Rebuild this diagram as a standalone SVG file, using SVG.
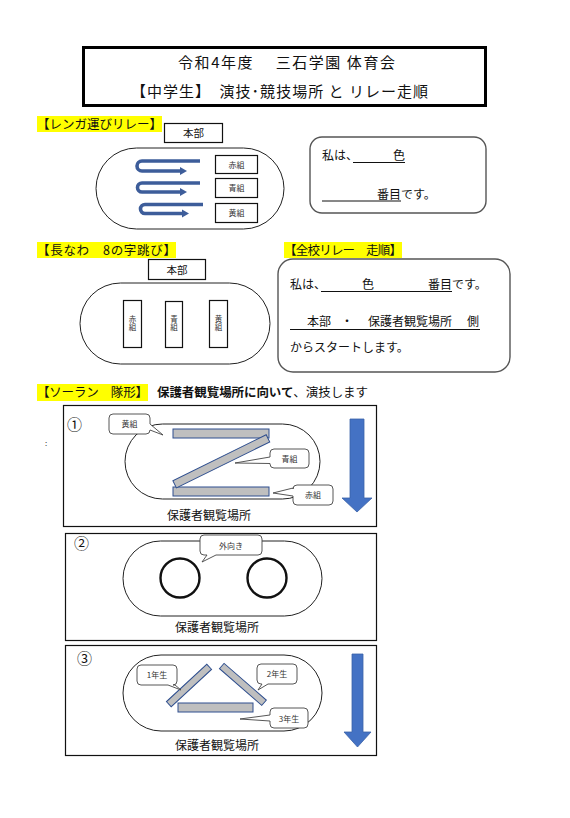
<svg xmlns="http://www.w3.org/2000/svg" width="570" height="818" viewBox="0 0 570 818">
<style>
text{font-family:"Noto Sans CJK JP","Noto Sans",sans-serif;fill:#111}
.t15{font-size:15px}
.h{font-size:12.5px}
.b12{font-size:12px}
.s10{font-size:10.5px}
.s8{font-size:8px;fill:#333}
.v{font-size:7.5px;fill:#333;writing-mode:vertical-rl;text-orientation:upright;letter-spacing:1px}
.hl{fill:#ffff00}
.oval{fill:none;stroke:#222;stroke-width:1}
.box{fill:#fff;stroke:#111;stroke-width:1.2}
.rbox{fill:#fff;stroke:#555;stroke-width:1.4}
.panel{fill:none;stroke:#111;stroke-width:1.2}
.bar{fill:#bfbfbf;stroke:#2f4f8f;stroke-width:1}
.call{fill:#fff;stroke:#444;stroke-width:0.9}
.ul{stroke:#111;stroke-width:1}
.uarrow{fill:none;stroke:#3d5d9a;stroke-width:3.6}
.uhead{fill:#3d5d9a}
.big{fill:#4472c4;stroke:#3a62a8;stroke-width:0.8}
.circ{fill:none;stroke:#111;stroke-width:2.4}
</style>

<!-- Title -->
<g id="title">
<rect x="83.5" y="47.5" width="402" height="58" fill="#fff" stroke="#000" stroke-width="3"/>
<text class="t15" x="178" y="68" textLength="217">令和4年度　 三石学園 体育会</text>
<text class="t15" x="131" y="97" textLength="297">【中学生】　演技･競技場所 と リレー走順</text>
</g>

<!-- Section 1: レンガ運びリレー -->
<g id="sec-renga">
<rect class="hl" x="37" y="116" width="125" height="16"/>
<text class="h" x="37" y="128.5" textLength="125">【レンガ運びリレー】</text>
</g>
<g id="renga-honbu">
<rect class="box" x="164.5" y="123.5" width="58" height="19"/>
<text class="s10" x="193.5" y="137" text-anchor="middle">本部</text>
</g>
<g id="renga-field">
<rect class="oval" x="96" y="148" width="188" height="81" rx="40.5"/>
</g>
<g id="renga-aka">
<rect class="box" x="215.5" y="155.5" width="42" height="18"/>
<text class="s8" x="236.5" y="167.5" text-anchor="middle">赤組</text>
</g>
<g id="renga-ao">
<rect class="box" x="215.5" y="178.5" width="42" height="19"/>
<text class="s8" x="236.5" y="191" text-anchor="middle">青組</text>
</g>
<g id="renga-ki">
<rect class="box" x="215.5" y="203.5" width="42" height="19"/>
<text class="s8" x="236.5" y="216" text-anchor="middle">黄組</text>
</g>

<!-- Right box 1 -->
<g id="renga-card">
<rect class="rbox" x="310" y="137" width="176" height="76" rx="12"/>
<text class="b12" x="322" y="160">私は、</text>
<line class="ul" x1="353" y1="162.5" x2="405" y2="162.5"/>
<text class="b12" x="393" y="160">色</text>
<line class="ul" x1="322" y1="201" x2="401" y2="201"/>
<text class="b12" x="377" y="198.5">番目です。</text>
</g>

<!-- Section 2: 長なわ -->
<g id="sec-nagawa">
<rect class="hl" x="37" y="242" width="139" height="16"/>
<text class="h" x="37" y="254.5" textLength="139">【長なわ　8の字跳び】</text>
</g>
<g id="nagawa-honbu">
<rect class="box" x="148.5" y="259.5" width="57" height="20"/>
<text class="s10" x="177" y="273.5" text-anchor="middle">本部</text>
</g>
<g id="nagawa-field">
<rect class="oval" x="80" y="283" width="190" height="81" rx="40.5"/>
</g>
<g id="nagawa-aka">
<rect class="box" x="123.5" y="300.5" width="18" height="47"/>
<text class="v" x="132.5" y="315">赤組</text>
</g>
<g id="nagawa-ao">
<rect class="box" x="165.5" y="301.5" width="17" height="46"/>
<text class="v" x="174" y="315">青組</text>
</g>
<g id="nagawa-ki">
<rect class="box" x="209.5" y="300.5" width="18" height="47"/>
<text class="v" x="218.5" y="315">黄組</text>
</g>

<!-- Section 3: 全校リレー -->
<g id="sec-zenko">
<rect class="hl" x="284" y="242" width="118" height="16"/>
<text class="h" x="284" y="254.5" textLength="118">【全校リレー　走順】</text>
</g>
<g id="zenko-card">
<rect class="rbox" x="278" y="259" width="232" height="113" rx="15"/>
<text class="b12" x="290" y="289">私は、</text>
<line class="ul" x1="321" y1="291.5" x2="452" y2="291.5"/>
<text class="b12" x="362" y="289">色</text>
<text class="b12" x="428" y="289">番目です。</text>
<line class="ul" x1="290" y1="329.5" x2="480" y2="329.5"/>
<text class="b12" x="307" y="326">本部</text>
<text class="b12" x="347" y="326" text-anchor="middle">・</text>
<text class="b12" x="368" y="326">保護者観覧場所</text>
<text class="b12" x="467" y="326">側</text>
<text class="b12" x="290" y="352">からスタートします。</text>
</g>

<!-- Section 4: ソーラン -->
<g id="sec-soran">
<rect class="hl" x="37" y="384" width="111" height="17"/>
<text class="h" x="37" y="397" textLength="111">【ソーラン　隊形】</text>
<text class="h" x="157" y="397" textLength="211"><tspan font-weight="bold">保護者観覧場所に向いて</tspan><tspan>、演技します</tspan></text>
<text class="s8" x="45" y="446">:</text>
</g>

<!-- Panel 1 -->
<g id="panel1">
<rect class="panel" x="63.5" y="405.5" width="313" height="121"/>
<text class="t15" x="67" y="430">①</text>
<rect class="oval" x="125" y="424" width="195" height="75" rx="37.5"/>
<rect class="bar" x="173" y="429" width="96" height="9"/>
<rect class="bar" x="173" y="487" width="96" height="9"/>
<rect class="bar" x="-52" y="-4" width="104" height="8" transform="translate(221.3,461.3) rotate(-26.2)"/>
<text class="b12" x="167" y="520">保護者観覧場所</text>
</g>
<g id="p1-ki">
<path class="call" d="M113,414 H146 Q150,414 150,418 V424 L163,435 L150,430 V430 Q150,434 146,434 H113 Q109,434 109,430 V418 Q109,414 113,414 Z"/>
<text class="s8" x="129.5" y="427" text-anchor="middle">黄組</text>
</g>
<g id="p1-ao">
<path class="call" d="M274,449 H305 Q309,449 309,453 V464 Q309,468 305,468 H274 Q270,468 270,464 V463.5 L235,463 L270,457 V453 Q270,449 274,449 Z"/>
<text class="s8" x="289.5" y="461.5" text-anchor="middle">青組</text>
</g>
<g id="p1-aka">
<path class="call" d="M297,485 H329 Q333,485 333,489 V501 Q333,505 329,505 H297 Q293,505 293,501 V496 L273,493 L293,488 V489 Q293,485 297,485 Z"/>
<text class="s8" x="313" y="498" text-anchor="middle">赤組</text>
</g>

<!-- Panel 2 -->
<g id="panel2">
<rect class="panel" x="65.5" y="533.5" width="311" height="107"/>
<text class="t15" x="74" y="549">②</text>
<rect class="oval" x="123" y="541" width="199" height="75" rx="37.5"/>
<circle class="circ" cx="180" cy="578" r="19.5"/>
<circle class="circ" cx="267" cy="578" r="19.5"/>
<text class="b12" x="175" y="632">保護者観覧場所</text>
</g>
<g id="p2-soto">
<path class="call" d="M204,535 H258 Q262,535 262,539 V551 Q262,555 258,555 H216 L202,562 L207,555 H204 Q200,555 200,551 V539 Q200,535 204,535 Z"/>
<text class="s8" x="231" y="548.5" text-anchor="middle">外向き</text>
</g>

<!-- Panel 3 -->
<g id="panel3">
<rect class="panel" x="65.5" y="645.5" width="311" height="110"/>
<text class="t15" x="77" y="664">③</text>
<rect class="oval" x="123" y="655" width="199" height="76" rx="38"/>
<rect class="bar" x="-27.5" y="-3.5" width="55" height="7" transform="translate(189,685.5) rotate(-42.8)"/>
<rect class="bar" x="-28" y="-3.5" width="56" height="7" transform="translate(242.9,684.4) rotate(41)"/>
<rect class="bar" x="178" y="703" width="75" height="9"/>
<text class="b12" x="175" y="750">保護者観覧場所</text>
</g>
<g id="p3-1nen">
<path class="call" d="M141,665 H173 Q177,665 177,669 V681 Q177,685 173,685 H175 L181,690 L168,685 H141 Q137,685 137,681 V669 Q137,665 141,665 Z"/>
<text class="s8" x="157" y="678" text-anchor="middle">1年生</text>
</g>
<g id="p3-2nen">
<path class="call" d="M261,664 H293 Q297,664 297,668 V680 Q297,684 293,684 H268 L258,690 L262,684 H261 Q257,684 257,680 V668 Q257,664 261,664 Z"/>
<text class="s8" x="277" y="677" text-anchor="middle">2年生</text>
</g>
<g id="p3-3nen">
<path class="call" d="M274,708 H304 Q308,708 308,712 V724 Q308,728 304,728 H274 Q270,728 270,724 V721 L240,719 L270,715 V712 Q270,708 274,708 Z"/>
<text class="s8" x="289" y="721.5" text-anchor="middle">3年生</text>
</g>

<!-- Arrows -->
<g id="connectors">
<path class="uarrow" d="M200,161 H142 A5,5 0 0 0 142,171 H181"/>
<polygon class="uhead" points="180,167 187,171 180,175"/>
<path class="uarrow" d="M200,183 H142 A4.5,4.5 0 0 0 142,192 H181"/>
<polygon class="uhead" points="180,188 187,192 180,196"/>
<path class="uarrow" d="M203,204.5 H145 A4.5,4.5 0 0 0 145,213.5 H183"/>
<polygon class="uhead" points="182,209.5 189,213.5 182,217.5"/>
<polygon class="big" points="350,419 364,419 364,498 372,498 357,512 342,498 350,498"/>
<polygon class="big" points="352,654 363,654 363,732 371,732 357.5,747 344,732 352,732"/>
</g>
</svg>
